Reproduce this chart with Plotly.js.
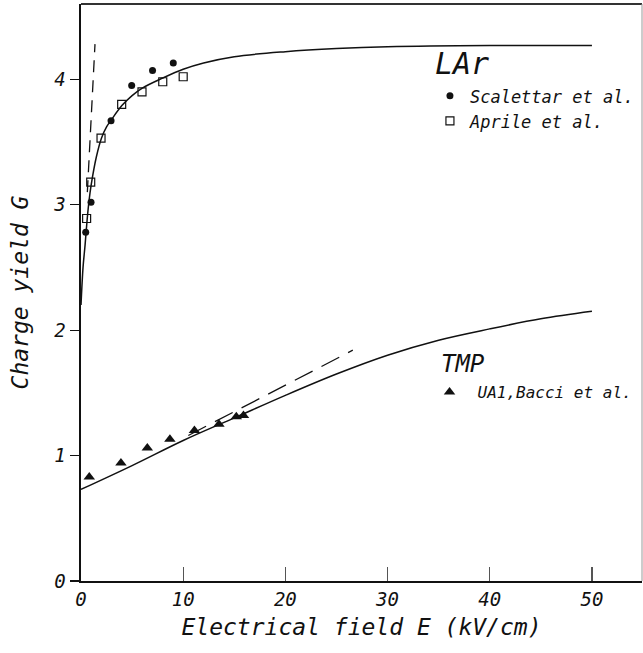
<!DOCTYPE html>
<html>
<head>
<meta charset="utf-8">
<script src="https://cdn.plot.ly/plotly-3.0.1.min.js"></script>
<style>html,body{margin:0;padding:0;background:#fff;}#chart{width:643px;height:653px;}</style>
</head>
<body>
<div id="chart"></div>
<script>
// LAr fitted curve
var larFitE = [0, 0.2, 0.4, 0.6, 0.8, 1.0, 1.5, 2, 2.5, 3, 4, 5, 6, 8, 10, 12, 15, 20, 25, 30, 40, 50];
var larFitG = [2.2, 2.5, 2.68, 2.88, 3.04, 3.16, 3.38, 3.53, 3.62, 3.68, 3.79, 3.87, 3.93, 4.01, 4.08, 4.13, 4.18, 4.22, 4.245, 4.26, 4.27, 4.27];
// LAr dashed (initial slope) line
var larDashE = [0.62, 1.37];
var larDashG = [3.1, 4.28];
// Scalettar et al. (LAr)
var scalE = [0.46, 0.98, 2.94, 4.96, 7.0, 9.03];
var scalG = [2.78, 3.02, 3.67, 3.95, 4.07, 4.13];
// Aprile et al. (LAr)
var aprE = [0.55, 0.95, 1.96, 3.98, 5.97, 8.0, 10.0];
var aprG = [2.89, 3.18, 3.53, 3.80, 3.90, 3.98, 4.02];
// TMP fitted curve
var tmpFitE = [0, 5, 10, 15, 20, 25, 30, 35, 40, 45, 50];
var tmpFitG = [0.73, 0.92, 1.12, 1.30, 1.48, 1.65, 1.80, 1.92, 2.01, 2.09, 2.15];
// TMP dashed line
var tmpDashE = [10.5, 26.6];
var tmpDashG = [1.16, 1.84];
// UA1, Bacci et al. (TMP)
var uaE = [0.81, 3.91, 6.49, 8.7, 11.1, 13.5, 15.2, 15.9];
var uaG = [0.83, 0.94, 1.06, 1.13, 1.20, 1.25, 1.31, 1.32];

var xTicks = [0, 10, 20, 30, 40, 50];
var yTicks = [0, 1, 2, 3, 4];

var FONT = "DejaVu Sans Mono, monospace";
var ink = "#111";

var traces = [
  {x: larFitE, y: larFitG, mode: "lines", line: {color: ink, width: 1.5, shape: "spline"}, showlegend: false, hoverinfo: "skip"},
  {x: larDashE, y: larDashG, mode: "lines", line: {color: ink, width: 1.3, dash: "12px,8px"}, showlegend: false, hoverinfo: "skip"},
  {x: tmpFitE, y: tmpFitG, mode: "lines", line: {color: ink, width: 1.5, shape: "spline"}, showlegend: false, hoverinfo: "skip"},
  {x: tmpDashE, y: tmpDashG, mode: "lines", line: {color: ink, width: 1.3, dash: "20px,10px"}, showlegend: false, hoverinfo: "skip"},
  {x: scalE, y: scalG, mode: "markers", name: "Scalettar et al.", marker: {symbol: "circle", size: 7, color: ink},
   legend: "legend", legendgroup: "lar", legendgrouptitle: {text: "LAr", font: {family: FONT, size: 30, style: "italic", color: ink}}},
  {x: aprE, y: aprG, mode: "markers", name: "Aprile et al.", marker: {symbol: "square-open", size: 8, color: ink, line: {width: 1.2, color: ink}},
   legend: "legend", legendgroup: "lar"},
  {x: uaE, y: uaG, mode: "markers", name: "UA1,Bacci et al.", marker: {symbol: "triangle-up", size: 10, color: ink},
   legend: "legend2", legendgroup: "tmp", legendgrouptitle: {text: "\u00a0TMP", font: {family: FONT, size: 24, style: "italic", color: ink}}}
];

var layout = {
  width: 643, height: 653,
  margin: {l: 81, r: 1, t: 4, b: 72, autoexpand: false},
  paper_bgcolor: "#fff", plot_bgcolor: "#fff",
  font: {family: FONT, color: ink, size: 19, style: "italic"},
  xaxis: {
    range: [0, 54.9], tickvals: xTicks, ticktext: xTicks.map(String),
    ticks: "inside", ticklen: 14, tickwidth: 1.2, tickcolor: "#555",
    showline: true, linecolor: ink, linewidth: 2, showgrid: false, zeroline: false,
    tickfont: {family: FONT, size: 19, style: "italic", color: ink},
    title: {text: "Electrical field E (kV/cm)", font: {family: FONT, size: 23, style: "italic", color: ink}, standoff: 10}
  },
  yaxis: {
    range: [0, 4.6], tickvals: yTicks, ticktext: yTicks.map(String),
    ticks: "outside", ticklen: 9, tickwidth: 1.2, tickcolor: ink,
    showline: true, linecolor: ink, linewidth: 2.5, showgrid: false, zeroline: false,
    tickfont: {family: FONT, size: 19, style: "italic", color: ink},
    title: {text: "Charge yield G", font: {family: FONT, size: 23, style: "italic", color: ink}, standoff: 18}
  },
  shapes: [
    {type: "line", xref: "paper", yref: "paper", x0: 0, x1: 1, y0: 1, y1: 1, line: {color: "#333", width: 2}},
    {type: "line", xref: "paper", yref: "paper", x0: 1, x1: 1, y0: 0, y1: 1, line: {color: "#999", width: 1}}
  ],
  legend: {x: 0.622, y: 0.944, xanchor: "left", yanchor: "top", bgcolor: "rgba(0,0,0,0)",
    font: {family: FONT, size: 17, style: "italic", color: ink}, tracegroupgap: 0, itemwidth: 30},
  legend2: {x: 0.607, y: 0.416, xanchor: "left", yanchor: "top", bgcolor: "rgba(0,0,0,0)",
    font: {family: FONT, size: 16, style: "italic", color: ink}, itemwidth: 46},
  showlegend: true
};

Plotly.newPlot("chart", traces, layout, {displayModeBar: false, staticPlot: true});
</script>
</body>
</html>
